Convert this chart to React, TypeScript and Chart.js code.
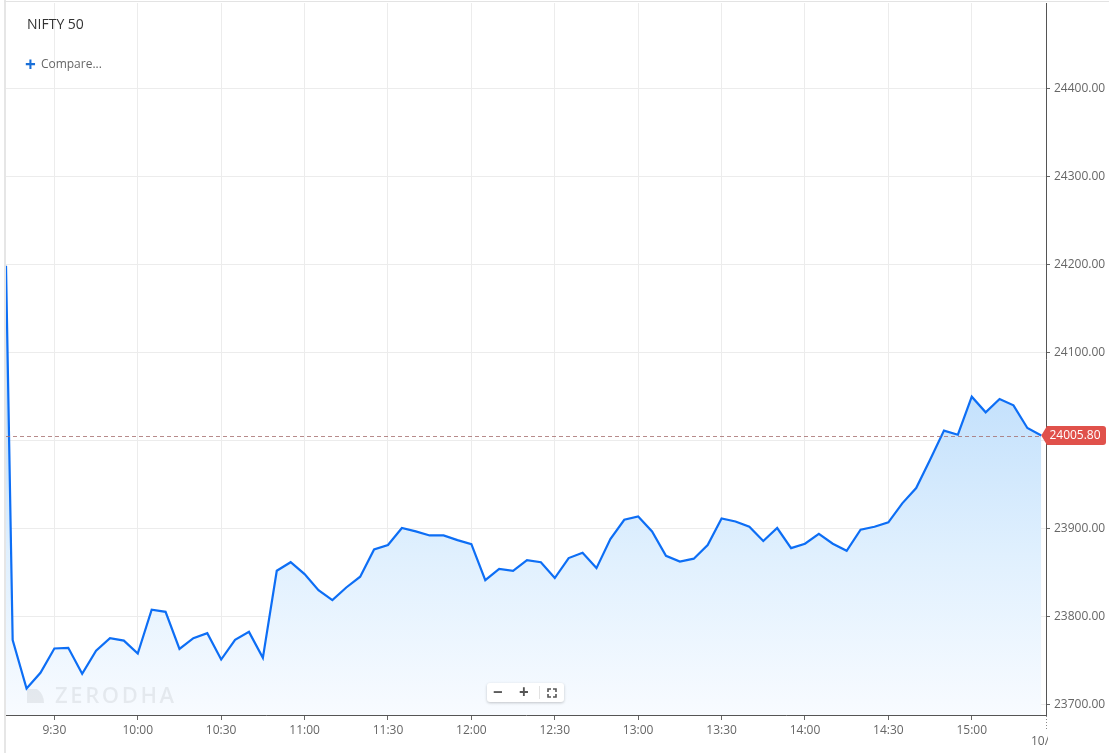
import React, { useEffect, useRef } from "react";
import { Chart, registerables } from "chart.js";

Chart.register(...registerables);

// ---- data ----
const times = [
  "9:15", "9:20", "9:25", "9:30", "9:35", "9:40", "9:45", "9:50", "9:55",
  "10:00", "10:05", "10:10", "10:15", "10:20", "10:25", "10:30", "10:35", "10:40", "10:45", "10:50", "10:55",
  "11:00", "11:05", "11:10", "11:15", "11:20", "11:25", "11:30", "11:35", "11:40", "11:45", "11:50", "11:55",
  "12:00", "12:05", "12:10", "12:15", "12:20", "12:25", "12:30", "12:35", "12:40", "12:45", "12:50", "12:55",
  "13:00", "13:05", "13:10", "13:15", "13:20", "13:25", "13:30", "13:35", "13:40", "13:45", "13:50", "13:55",
  "14:00", "14:05", "14:10", "14:15", "14:20", "14:25", "14:30", "14:35", "14:40", "14:45", "14:50", "14:55",
  "15:00", "15:05", "15:10", "15:15", "15:20", "15:25",
];
const prices = [
  23773.5, 23718.5, 23736.4, 23764.0, 23764.8, 23735.2, 23761.4, 23775.8, 23773.0,
  23758.3, 23808.0, 23805.7, 23763.6, 23775.8, 23781.4, 23751.5, 23773.9, 23782.9, 23753.4, 23852.3, 23862.0,
  23848.5, 23830.3, 23819.0, 23833.3, 23845.5, 23876.5, 23881.5, 23900.8, 23897.0, 23892.4, 23892.4, 23887.1,
  23882.6, 23841.7, 23854.5, 23852.3, 23864.4, 23862.0, 23844.0, 23866.7, 23872.7, 23855.3, 23888.3, 23910.2,
  23914.0, 23897.0, 23869.3, 23862.8, 23866.0, 23881.5, 23911.7, 23908.3, 23902.3, 23886.0, 23900.8, 23878.0,
  23883.0, 23894.3, 23883.0, 23875.0, 23898.9, 23902.3, 23907.2, 23928.8, 23946.2, 23978.4, 24011.4, 24006.8,
  24050.0, 24032.2, 24047.3, 24040.1, 24014.4, 24005.8,
];
// point sitting on the left edge of the visible window (earlier session value)
const edgeTime = "9:12.6";
const edgePrice = 24198.5;
const lastPrice = 24005.8;

const xTickLabels = ["9:30", "10:00", "10:30", "11:00", "11:30", "12:00", "12:30", "13:00", "13:30", "14:00", "14:30", "15:00"];
const yTickValues = [23700, 23800, 23900, 24000, 24100, 24200, 24300, 24400];
const xRange = ["9:12.6", "15:26.7"];
const yRange = [23688.5, 24497];
const nextDayLabel = "10/";

const FONT = "'Open Sans', 'Noto Sans', sans-serif";

const toMin = (t: string) => {
  const [h, m] = t.split(":");
  return Number(h) * 60 + Number(m);
};
const fmtMin = (v: number) => {
  const h = Math.floor(v / 60);
  const m = Math.round(v - h * 60);
  return `${h}:${String(m).padStart(2, "0")}`;
};

const overlayPlugin = {
  id: "overlay",
  beforeDraw(chart: any) {
    const c = chart.ctx;
    c.save();
    c.fillStyle = "#e6e6e6";
    c.fillRect(4, 0, 2, chart.height);
    c.fillStyle = "#e3e3e3";
    c.fillRect(4, 1, chart.width - 4, 1);
    c.restore();
  },
  afterDatasetsDraw(chart: any) {
    const c = chart.ctx;
    const { chartArea } = chart;
    const yS = chart.scales.y;
    const xS = chart.scales.x;
    // watermark
    c.save();
    c.fillStyle = "rgba(0,0,0,0.065)";
    c.beginPath();
    c.moveTo(27, 703);
    c.lineTo(27, 689);
    c.lineTo(37, 689);
    c.quadraticCurveTo(44, 694, 44, 703);
    c.closePath();
    c.fill();
    c.font = `600 22px ${FONT}`;
    (c as any).letterSpacing = "2.6px";
    c.textBaseline = "alphabetic";
    c.fillText("ZERODHA", 55, 703);
    c.restore();

    // dashed last price line
    const yp = Math.round(yS.getPixelForValue(lastPrice)) + 0.5;
    const lastX = xS.getPixelForValue(toMin(times[times.length - 1]));
    c.save();
    c.strokeStyle = "rgba(165,110,110,0.8)";
    c.lineWidth = 1;
    c.setLineDash([4, 3]);
    c.beginPath();
    c.moveTo(chartArea.left, yp);
    c.lineTo(lastX, yp);
    c.stroke();
    c.restore();
  },
  afterDraw(chart: any) {
    const c = chart.ctx;
    const { chartArea } = chart;
    const yS = chart.scales.y;
    const xS = chart.scales.x;
    const yp = yS.getPixelForValue(lastPrice);
    const tipX = xS.getPixelForValue(toMin(times[times.length - 1]));
    // price label
    c.save();
    c.fillStyle = "#e0514b";
    const top = yp - 9.5;
    const bot = yp + 9.5;
    const bx = chartArea.right + 1;
    const r = 3;
    const right = 1106;
    c.beginPath();
    c.moveTo(tipX, yp);
    c.lineTo(bx, top);
    c.lineTo(right - r, top);
    c.quadraticCurveTo(right, top, right, top + r);
    c.lineTo(right, bot - r);
    c.quadraticCurveTo(right, bot, right - r, bot);
    c.lineTo(bx, bot);
    c.closePath();
    c.fill();
    c.fillStyle = "#ffffff";
    c.font = `12px ${FONT}`;
    c.textAlign = "center";
    c.textBaseline = "middle";
    c.fillText(lastPrice.toFixed(2), 1075, yp + 0.5);
    c.restore();

    // next-day boundary tick and label
    c.save();
    c.strokeStyle = "#888";
    c.lineWidth = 1;
    c.setLineDash([1, 2]);
    c.beginPath();
    c.moveTo(chartArea.right + 0.5, chartArea.bottom + 1);
    c.lineTo(chartArea.right + 0.5, chartArea.bottom + 14);
    c.stroke();
    c.beginPath();
    c.rect(0, chartArea.bottom + 1, chartArea.right + 2, 60);
    c.clip();
    c.fillStyle = "#666";
    c.font = `12px ${FONT}`;
    c.textAlign = "left";
    c.textBaseline = "middle";
    c.fillText(nextDayLabel, chartArea.right - 15, chartArea.bottom + 27);
    c.restore();
  },
};

export default function App() {
  const ref = useRef<HTMLCanvasElement | null>(null);

  useEffect(() => {
    if (!ref.current) return;
    const points = [{ x: toMin(edgeTime), y: edgePrice }].concat(
      times.map((t, i) => ({ x: toMin(t), y: prices[i] }))
    );
    const chart = new Chart(ref.current, {
      type: "line",
      data: {
        datasets: [
          {
            label: "NIFTY 50",
            data: points,
            borderColor: "#0d6ef5",
            borderWidth: 2.2,
            pointRadius: 0,
            tension: 0,
            fill: "start",
            backgroundColor: (ctx: any) => {
              const ch = ctx.chart;
              const area = ch.chartArea;
              if (!area) return "rgba(200,228,252,0.6)";
              const g = ch.ctx.createLinearGradient(0, ch.scales.y.getPixelForValue(24050), 0, area.bottom);
              g.addColorStop(0, "#c4e1fc");
              g.addColorStop(0.5, "#e0f0fe");
              g.addColorStop(1, "#f8fbff");
              return g;
            },
          },
        ],
      },
      options: {
        animation: false,
        responsive: false,
        devicePixelRatio: 1,
        layout: { padding: { left: 6, top: 3, right: 0, bottom: 0 } },
        plugins: {
          legend: { display: false },
          tooltip: { enabled: false },
        },
        scales: {
          x: {
            type: "linear",
            min: toMin(xRange[0]),
            max: toMin(xRange[1]),
            afterBuildTicks: (scale: any) => {
              scale.ticks = xTickLabels.map((t) => ({ value: toMin(t) }));
            },
            afterFit: (scale: any) => {
              scale.height = 38;
              scale.paddingLeft = 0;
              scale.paddingRight = 0;
            },
            grid: {
              color: "#ececec",
              tickColor: "#666",
              tickLength: 5,
              lineWidth: 1,
            },
            border: { display: true, color: "#555", width: 1 },
            ticks: {
              autoSkip: false,
              maxRotation: 0,
              padding: 3,
              color: "#666",
              font: { family: FONT, size: 12 },
              callback: (v: any) => fmtMin(Number(v)),
            },
          },
          y: {
            position: "right",
            min: yRange[0],
            max: yRange[1],
            afterBuildTicks: (scale: any) => {
              scale.ticks = yTickValues.map((v) => ({ value: v }));
            },
            afterFit: (scale: any) => {
              scale.width = 63;
              scale.paddingTop = 0;
              scale.paddingBottom = 0;
            },
            grid: {
              color: "#ececec",
              tickColor: "#666",
              tickLength: 4,
              lineWidth: 1,
            },
            border: { display: true, color: "#555", width: 1 },
            ticks: {
              padding: 4,
              color: "#666",
              font: { family: FONT, size: 12 },
              callback: (v: any) => Number(v).toFixed(2),
            },
          },
        },
      },
      plugins: [overlayPlugin],
    } as any);
    return () => chart.destroy();
  }, []);

  return (
    <div style={{ position: "absolute", left: 0, top: 0, width: 1109, height: 753, overflow: "hidden", background: "#fff", fontFamily: FONT }}>
      <canvas ref={ref} width={1109} height={753} style={{ position: "absolute", left: 0, top: 0, width: 1109, height: 753 }} />
      <div style={{ position: "absolute", left: 27, top: 14, fontSize: 14, color: "#333", lineHeight: "19px" }}>NIFTY 50</div>
      <div style={{ position: "absolute", left: 25, top: 55, fontSize: 12, color: "#666", lineHeight: "18px", display: "flex", alignItems: "center" }}>
        <span style={{ color: "#1a6fd8", fontSize: 19, fontWeight: 700, marginRight: 5, lineHeight: "18px" }}>+</span>
        <span>Compare...</span>
      </div>
      <div
        style={{
          position: "absolute",
          left: 487,
          top: 683,
          width: 77,
          height: 19,
          background: "#fff",
          borderRadius: 3,
          boxShadow: "0 1px 3px rgba(0,0,0,0.22)",
        }}
      >
        <span style={{ position: "absolute", left: 6, top: -1, fontSize: 17, fontWeight: 700, color: "#555", lineHeight: "20px" }}>−</span>
        <span style={{ position: "absolute", left: 32, top: -1, fontSize: 17, fontWeight: 700, color: "#555", lineHeight: "20px" }}>+</span>
        <span style={{ position: "absolute", left: 52, top: 3, width: 1, height: 13, background: "#e2e2e2" }} />
        <svg style={{ position: "absolute", left: 60, top: 5 }} width={10} height={10} viewBox="0 0 10 10">
          <path d="M1 4V1H4M6 1H9V4M9 6V9H6M4 9H1V6" fill="none" stroke="#555" strokeWidth={1.6} />
        </svg>
      </div>
    </div>
  );
}
